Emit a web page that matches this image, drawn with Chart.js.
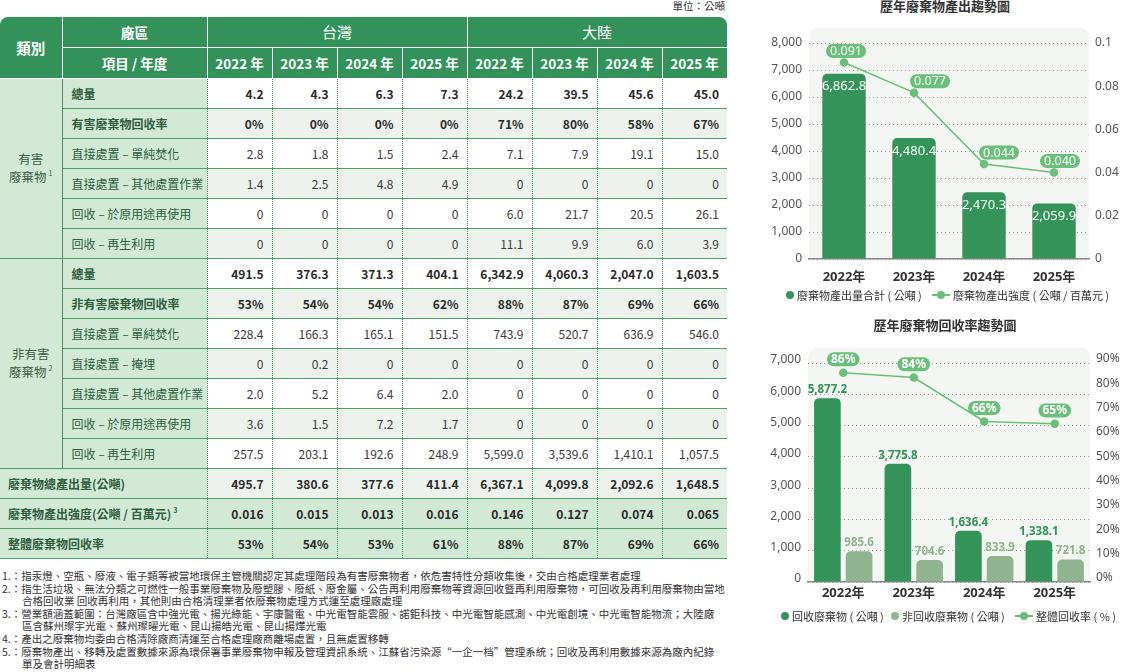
<!DOCTYPE html>
<html><head><meta charset="utf-8">
<script src="https://cdn.jsdelivr.net/npm/chart.js@4.4.1/dist/chart.umd.min.js"></script>
<style>
html,body{margin:0;padding:0;background:#fff;}
body{width:1127px;height:672px;position:relative;overflow:hidden;font-family:"Noto Sans CJK TC","Noto Sans",sans-serif;color:#333;}
#unit{position:absolute;left:600px;width:125px;text-align:right;top:-1px;font-size:10.5px;line-height:14px;color:#333;}
#tw{position:absolute;left:0;top:17px;width:727px;border-radius:8px 8px 0 0;overflow:hidden;}
#tbl{border-collapse:collapse;table-layout:fixed;width:727px;font-family:"Liberation Sans Narrow","Noto Sans CJK TC",sans-serif;}
#tbl th{background:#33925a;color:#fff;font-weight:bold;border:1px solid #fff;padding:0;text-align:center;font-size:13.5px;}
#tbl tr.h1{height:30px;} #tbl tr.h2{height:31px;}
#tbl th.hcat{font-size:14.5px;border-left:none;border-top:none;}
#tbl th.plant{font-size:15px;font-weight:normal;}
#tbl tr.h1 th{border-top:none;}
#tbl tr.b{height:30px;}
#tbl td{padding:0;font-size:12px;white-space:nowrap;}
#tbl td.cat{background:#d2e9d6;text-align:center;color:#3b5e46;font-size:12.5px;line-height:18px;border-right:1px solid #4f8a62;border-top:1px solid #4aa067;border-bottom:1px solid #4aa067;}
#tbl td.item{background:#d2e9d6;padding-left:9px;color:#2f5d3d;border-top:1px solid #4aa067;}
#tbl td.sum{background:#d2e9d6;padding-left:8px;color:#2f5d3d;font-weight:bold;border-top:1px solid #4aa067;border-bottom:1px solid #4aa067;}
#tbl td.val{text-align:right;padding-right:8px;color:#3a3a3a;border-left:1px dotted #3a9a5c;border-top:1px solid #4aa067;background:#fff;}
#tbl td.alt{background:#edf2ec;}
#tbl td.grn{background:#d2e9d6;}
#tbl td.bold{font-weight:bold;color:#2a2a2a;}
#tbl td.item.bold{color:#2f5d3d;}
#tbl sup{font-size:7px;vertical-align:6px;line-height:0;margin-left:2px;}
#notes{position:absolute;left:0;top:570px;width:740px;font-size:10.5px;line-height:12.6px;color:#333;}
#notes .fn{padding-left:22px;text-indent:-20px;white-space:nowrap;}
.ctitle{position:absolute;left:845px;width:200px;text-align:center;font-size:13px;font-weight:bold;color:#333;line-height:16px;}
.legend{position:absolute;font-size:11px;color:#333;line-height:14px;white-space:nowrap;}
.legend .it{position:absolute;top:0;}
.dot{position:absolute;width:8px;height:8px;border-radius:50%;top:3px;}
.lineic{position:absolute;width:18px;height:2px;top:6px;}
.lineic:after{content:"";position:absolute;left:5px;top:-3px;width:8px;height:8px;border-radius:50%;background:inherit;}
canvas{position:absolute;}
</style>
</head><body>
<div id="unit">單位：公噸</div>
<div id="tw"></div>
<div id="notes">
<div class="fn">1.：指汞燈、空瓶、廢液、電子類等被當地環保主管機關認定其處理階段為有害廢棄物者，依危害特性分類收集後，交由合格處理業者處理</div>
<div class="fn">2.：指生活垃圾、無法分類之可燃性一般事業廢棄物及廢塑膠、廢紙、廢金屬、公告再利用廢棄物等資源回收暨再利用廢棄物，可回收及再利用廢棄物由當地<br>合格回收業 回收再利用，其他則由合格清理業者依廢棄物處理方式運至處理廠處理</div>
<div class="fn">3.：營業額涵蓋範圍：台灣廠區含中強光電、揚光綠能、宇康醫電、中光電智能雲服、諾鉅科技、中光電智能感測、中光電創境、中光電智能物流；大陸廠<br>區含蘇州璨宇光電、蘇州璨曜光電、昆山揚皓光電、昆山揚燁光電</div>
<div class="fn">4.：產出之廢棄物均委由合格清除廠商清運至合格處理廠商離場處置，且無處置移轉</div>
<div class="fn">5.：廢棄物產出、移轉及處置數據來源為環保署事業廢棄物申報及管理資訊系統、江蘇省污染源“一企一档”管理系統；回收及再利用數據來源為廠內紀錄<br>單及會計明細表</div>
</div>

<div class="ctitle" style="top:-2px;">歷年廢棄物產出趨勢圖</div>
<canvas id="c1" width="387" height="290" style="left:740px;top:0px;width:387px;height:290px;"></canvas>
<div class="legend" style="left:0;top:288px;">
  <div class="it" style="left:786px;"><span class="dot" style="left:0;background:#339358;"></span><span style="position:absolute;left:11px;">廢棄物產出量合計 ( 公噸 )</span></div>
  <div class="it" style="left:932px;"><span class="lineic" style="left:0;background:#6abf7a;"></span><span style="position:absolute;left:21px;">廢棄物產出強度 ( 公噸 / 百萬元 )</span></div>
</div>

<div class="ctitle" style="top:317px;">歷年廢棄物回收率趨勢圖</div>
<canvas id="c2" width="387" height="294" style="left:740px;top:310px;width:387px;height:294px;"></canvas>
<div class="legend" style="left:0;top:609px;">
  <div class="it" style="left:781px;"><span class="dot" style="left:0;background:#339358;"></span><span style="position:absolute;left:11px;">回收廢棄物 ( 公噸 )</span></div>
  <div class="it" style="left:891px;"><span class="dot" style="left:0;background:#8fb48f;"></span><span style="position:absolute;left:11px;">非回收廢棄物 ( 公噸 )</span></div>
  <div class="it" style="left:1015px;"><span class="lineic" style="left:0;background:#6abf7a;"></span><span style="position:absolute;left:21px;">整體回收率 ( % )</span></div>
</div>

<script>
// ---------- table data ----------
const plants = ['台灣', '大陸'];
const tableYears = ['2022 年', '2023 年', '2024 年', '2025 年'];
const hazRowLabels = ['總量', '有害廢棄物回收率', '直接處置 – 單純焚化', '直接處置 – 其他處置作業', '回收 – 於原用途再使用', '回收 – 再生利用'];
const hazTotal = [4.2, 4.3, 6.3, 7.3, 24.2, 39.5, 45.6, 45.0];
const hazRate = [0, 0, 0, 0, 71, 80, 58, 67];
const hazIncin = [2.8, 1.8, 1.5, 2.4, 7.1, 7.9, 19.1, 15.0];
const hazOther = [1.4, 2.5, 4.8, 4.9, 0, 0, 0, 0];
const hazReuse = [0, 0, 0, 0, 6.0, 21.7, 20.5, 26.1];
const hazRecycle = [0, 0, 0, 0, 11.1, 9.9, 6.0, 3.9];
const nonRowLabels = ['總量', '非有害廢棄物回收率', '直接處置 – 單純焚化', '直接處置 – 掩埋', '直接處置 – 其他處置作業', '回收 – 於原用途再使用', '回收 – 再生利用'];
const nonTotal = [491.5, 376.3, 371.3, 404.1, 6342.9, 4060.3, 2047.0, 1603.5];
const nonRate = [53, 54, 54, 62, 88, 87, 69, 66];
const nonIncin = [228.4, 166.3, 165.1, 151.5, 743.9, 520.7, 636.9, 546.0];
const nonLandfill = [0, 0.2, 0, 0, 0, 0, 0, 0];
const nonOther = [2.0, 5.2, 6.4, 2.0, 0, 0, 0, 0];
const nonReuse = [3.6, 1.5, 7.2, 1.7, 0, 0, 0, 0];
const nonRecycle = [257.5, 203.1, 192.6, 248.9, 5599.0, 3539.6, 1410.1, 1057.5];
const sumLabels = ['廢棄物總產出量(公噸)', '廢棄物產出強度(公噸 / 百萬元)<sup>3</sup>', '整體廢棄物回收率'];
const sumTotal = [495.7, 380.6, 377.6, 411.4, 6367.1, 4099.8, 2092.6, 1648.5];
const sumIntensity = [0.016, 0.015, 0.013, 0.016, 0.146, 0.127, 0.074, 0.065];
const sumRate = [53, 54, 53, 61, 88, 87, 69, 66];

// ---------- chart data ----------
const chartYears = ['2022年', '2023年', '2024年', '2025年'];
const outputTotal = [6862.8, 4480.4, 2470.3, 2059.9];
const outputIntensity = [0.091, 0.077, 0.044, 0.040];
const recycledAmt = [5877.2, 3775.8, 1636.4, 1338.1];
const nonRecycledAmt = [985.6, 704.6, 833.9, 721.8];
const overallRate = [86, 84, 66, 65];

function fmt1(v) { return v === 0 ? '0' : v.toLocaleString('en-US', {minimumFractionDigits: 1, maximumFractionDigits: 1}); }
function fmtPct(v) { return v + '%'; }
function fmt3(v) { return v.toFixed(3); }

// ---------- build table ----------
const groups = [
  {cat: '有害<br>廢棄物<sup>1</sup>', rows: [
    [hazRowLabels[0], hazTotal, fmt1, true], [hazRowLabels[1], hazRate, fmtPct, true],
    [hazRowLabels[2], hazIncin, fmt1], [hazRowLabels[3], hazOther, fmt1],
    [hazRowLabels[4], hazReuse, fmt1], [hazRowLabels[5], hazRecycle, fmt1]]},
  {cat: '非有害<br>廢棄物<sup>2</sup>', rows: [
    [nonRowLabels[0], nonTotal, fmt1, true], [nonRowLabels[1], nonRate, fmtPct, true],
    [nonRowLabels[2], nonIncin, fmt1], [nonRowLabels[3], nonLandfill, fmt1],
    [nonRowLabels[4], nonOther, fmt1], [nonRowLabels[5], nonReuse, fmt1],
    [nonRowLabels[6], nonRecycle, fmt1]]}
];
const sums = [[sumLabels[0], sumTotal, fmt1, 'alt'], [sumLabels[1], sumIntensity, fmt3, 'grn'], [sumLabels[2], sumRate, fmtPct, 'grn']];

let h = '<table id="tbl"><colgroup><col style="width:62px"><col style="width:145px">' + '<col style="width:65px">'.repeat(8) + '</colgroup>';
h += '<tr class="h1"><th rowspan="2" class="hcat">類別</th><th>廠區</th>' + plants.map(p => `<th colspan="4" class="plant">${p}</th>`).join('') + '</tr>';
h += '<tr class="h2"><th>項目 / 年度</th>' + plants.map(() => tableYears.map(y => `<th class="yr">${y}</th>`).join('')).join('') + '</tr>';
groups.forEach(g => {
  g.rows.forEach((r, i) => {
    h += '<tr class="b">';
    if (i === 0) h += `<td rowspan="${g.rows.length}" class="cat">${g.cat}</td>`;
    h += `<td class="item${r[3] ? ' bold' : ''}">${r[0]}</td>`;
    r[1].forEach(v => { h += `<td class="val${i % 2 ? ' alt' : ''}${r[3] ? ' bold' : ''}">${r[2](v)}</td>`; });
    h += '</tr>';
  });
});
sums.forEach(r => {
  h += `<tr class="b"><td colspan="2" class="sum">${r[0]}</td>`;
  r[1].forEach(v => { h += `<td class="val bold ${r[3]}" style="border-bottom:1px solid #4aa067">${r[2](v)}</td>`; });
  h += '</tr>';
});
h += '</table>';
document.getElementById('tw').innerHTML = h;

// ---------- chart plugins ----------
const F = '"Noto Sans","Noto Sans CJK TC",sans-serif';
const plotBg = {
  id: 'plotBg',
  beforeDraw(chart, args, o) {
    const a = chart.chartArea, c = chart.ctx;
    c.save(); c.fillStyle = o.color; c.beginPath();
    c.roundRect(a.left, a.top - o.extra, a.right - a.left, a.bottom - a.top + o.extra, [o.radius, o.radius, 0, 0]);
    c.fill(); c.restore();
  }
};
const valueLabels = {
  id: 'valueLabels',
  afterDraw(chart, args, o) {
    const c = chart.ctx;
    (o.items || []).forEach(it => {
      const meta = chart.getDatasetMeta(it.dataset);
      const ds = chart.data.datasets[it.dataset];
      meta.data.forEach((el, i) => {
        const txt = it.format(ds.data[i]);
        c.save();
        c.font = it.font; c.textAlign = 'center'; c.textBaseline = 'middle';
        const x = el.x + (it.dx ? it.dx[i] : 0);
        const y = it.mode === 'inside' ? el.y + it.offset : el.y - it.offset;
        if (it.pill) {
          const w = c.measureText(txt).width + it.padX * 2, hh = it.pillH;
          c.fillStyle = it.pill; c.beginPath();
          c.roundRect(x - w / 2, y - hh / 2, w, hh, hh / 2); c.fill();
        }
        c.fillStyle = it.color;
        c.fillText(txt, x, y + 0.5);
        c.restore();
      });
    });
  }
};
const fmtThousands = v => v.toLocaleString('en-US');

// ---------- chart 1 ----------
new Chart(document.getElementById('c1'), {
  type: 'bar',
  data: {
    labels: chartYears,
    datasets: [
      {type: 'line', label: '廢棄物產出強度 ( 公噸 / 百萬元 )', data: outputIntensity, yAxisID: 'y1',
       borderColor: '#6abf7a', backgroundColor: '#6abf7a', borderWidth: 1.5, pointRadius: 3.5, pointHoverRadius: 3.5, tension: 0, order: 0},
      {type: 'bar', label: '廢棄物產出量合計 ( 公噸 )', data: outputTotal, yAxisID: 'y',
       backgroundColor: '#339358', borderRadius: {topLeft: 5, topRight: 5}, borderSkipped: 'bottom',
       barPercentage: 0.62, categoryPercentage: 1, order: 1}
    ]
  },
  plugins: [plotBg, valueLabels],
  options: {
    responsive: false, animation: false, devicePixelRatio: 1,
    layout: {padding: {top: 43, left: 0, right: 0, bottom: 0}},
    plugins: {
      legend: {display: false}, tooltip: {enabled: false},
      plotBg: {color: '#f3f6f2', extra: 16, radius: 10},
      valueLabels: {items: [
        {dataset: 1, mode: 'inside', offset: 12.5, font: '13px ' + F, color: '#ffffff', format: fmt1},
        {dataset: 0, mode: 'above', offset: 11.5, font: '12.5px ' + F, color: '#ffffff', format: fmt3,
         pill: '#6abf7a', padX: 4, pillH: 14, dx: [2, 16, 15, 6]}
      ]}
    },
    scales: {
      x: {grid: {display: false}, border: {display: true, color: '#8a8a8a', width: 1.5},
          ticks: {color: '#333', font: {size: 13, weight: 'bold', family: F}, padding: 2},
          afterFit(s) { s.height = 31; }},
      y: {position: 'left', min: 0, max: 8000,
          ticks: {stepSize: 1000, color: '#555', font: {size: 12, family: F}, padding: 7, callback: fmtThousands},
          grid: {color: '#9a9a9a', drawTicks: false, lineWidth: 1}, border: {display: false, dash: [1, 3]},
          afterFit(s) { s.width = 69; }},
      y1: {position: 'right', min: 0, max: 0.1,
          ticks: {stepSize: 0.02, color: '#555', font: {size: 12, family: F}, padding: 6,
                  callback: v => v === 0 ? '0' : String(+v.toFixed(2))},
          grid: {display: false, drawTicks: false}, border: {display: false},
          afterFit(s) { s.width = 38; }}
    }
  }
});

// ---------- chart 2 ----------
new Chart(document.getElementById('c2'), {
  type: 'bar',
  data: {
    labels: chartYears,
    datasets: [
      {type: 'line', label: '整體回收率 ( % )', data: overallRate, yAxisID: 'y1',
       borderColor: '#6abf7a', backgroundColor: '#6abf7a', borderWidth: 1.5, pointRadius: 3.5, pointHoverRadius: 3.5, tension: 0, order: 0},
      {type: 'bar', label: '回收廢棄物 ( 公噸 )', data: recycledAmt, yAxisID: 'y',
       backgroundColor: '#339358', borderRadius: {topLeft: 5, topRight: 5}, borderSkipped: 'bottom',
       barPercentage: 0.84, categoryPercentage: 0.9, order: 1},
      {type: 'bar', label: '非回收廢棄物 ( 公噸 )', data: nonRecycledAmt, yAxisID: 'y',
       backgroundColor: '#8fb48f', borderRadius: {topLeft: 5, topRight: 5}, borderSkipped: 'bottom',
       barPercentage: 0.84, categoryPercentage: 0.9, order: 2}
    ]
  },
  plugins: [plotBg, valueLabels],
  options: {
    responsive: false, animation: false, devicePixelRatio: 1,
    layout: {padding: {top: 53, left: 0, right: 0, bottom: 0}},
    plugins: {
      legend: {display: false}, tooltip: {enabled: false},
      plotBg: {color: '#f3f6f2', extra: 16, radius: 10},
      valueLabels: {items: [
        {dataset: 1, mode: 'above', offset: 9, font: 'bold 11.5px ' + F, color: '#339358', format: fmt1},
        {dataset: 2, mode: 'above', offset: 9, font: 'bold 11.5px ' + F, color: '#8fb48f', format: fmt1},
        {dataset: 0, mode: 'above', offset: 13.4, font: 'bold 12px ' + F, color: '#ffffff', format: fmtPct,
         pill: '#6abf7a', padX: 4, pillH: 14}
      ]}
    },
    scales: {
      x: {grid: {display: false}, border: {display: true, color: '#8a8a8a', width: 1.5},
          ticks: {color: '#333', font: {size: 13, weight: 'bold', family: F}, padding: -5},
          afterFit(s) { s.height = 22; }},
      y: {position: 'left', min: 0, max: 7000,
          ticks: {stepSize: 1000, color: '#555', font: {size: 12, family: F}, padding: 7, labelOffset: -3, callback: fmtThousands},
          grid: {color: '#9a9a9a', drawTicks: false, lineWidth: 1}, border: {display: false, dash: [1, 3]},
          afterFit(s) { s.width = 68; }},
      y1: {position: 'right', min: 0, max: 90,
          ticks: {stepSize: 10, color: '#555', font: {size: 12, family: F}, padding: 6, labelOffset: -4, callback: v => v + '%'},
          grid: {display: false, drawTicks: false}, border: {display: false},
          afterFit(s) { s.width = 37; }}
    }
  }
});
</script>
</body></html>
